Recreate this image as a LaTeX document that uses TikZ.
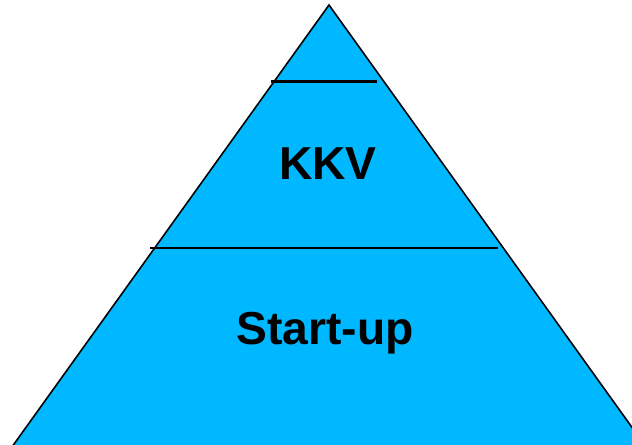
\documentclass[tikz,border=0pt]{standalone}
\usepackage{fontspec}
\setmainfont{Liberation Sans}
\usepackage{tikz}
\usetikzlibrary{positioning}

\definecolor{pyramid}{RGB}{0,184,255}

\begin{document}
\begin{tikzpicture}[
			x=0.02cm, y=-0.02cm
			,layer/.style={fill=pyramid, draw=black, line width=0.9pt}
			,cut/.style={draw=black, line width=1.4pt}
			,lbl/.style={font=\fontsize{26.3}{30}\selectfont\bfseries, anchor=base, inner sep=0pt}
		]
			\useasboundingbox (0,0) rectangle (632,445);
			\begin{scope}
				\clip (0,0) rectangle (632,445);
				\coordinate (top) at (329,5);
				\coordinate (bl) at (-1,465);
				\coordinate (br) at (659,465);
				\path [layer] (bl) -- (top) -- (br);
			\end{scope}
			\coordinate (c1l) at (271,81.5);
			\coordinate (c1r) at (377,81.5);
			\coordinate (c2l) at (150,248);
			\coordinate (c2r) at (498,248);
			\draw [cut] (c1l) -- (c1r);
			\draw [cut] (c2l) -- (c2r);
			\node [lbl] (kkv) at (328,180) {KKV};
			\node [lbl] (startup) at (325,345) {Start-up};
		\end{tikzpicture}
\end{document}
